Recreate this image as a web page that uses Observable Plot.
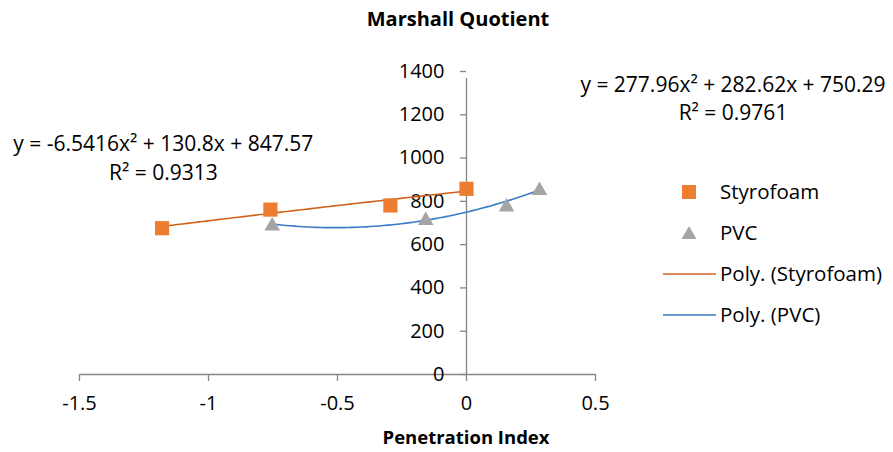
<!DOCTYPE html>
<html>
<head>
<meta charset="utf-8">
<script src="https://cdn.jsdelivr.net/npm/d3@7"></script>
<script src="https://cdn.jsdelivr.net/npm/@observablehq/plot@0.6"></script>
<style>
  html, body { margin: 0; padding: 0; background: #fff; }
  #wrap { position: relative; width: 893px; height: 452px; font-family: "Open Sans", sans-serif; color: #000; }
  #wrap svg.plot { position: absolute; left: 0; top: 0; }
  .ov { position: absolute; white-space: nowrap; font-weight: bold; }
</style>
</head>
<body>
<div id="wrap"></div>
<script>
// ---- data ----
const titleText = "Marshall Quotient";
const xLabel = "Penetration Index";
const xTicks = [-1.5, -1, -0.5, 0, 0.5];
const yTicks = [0, 200, 400, 600, 800, 1000, 1200, 1400];

const styroX = [-1.18, -0.76, -0.295, 0];
const styroY = [676, 762, 781, 858];
const pvcX = [-0.753, -0.158, 0.155, 0.283];
const pvcY = [686, 712, 774, 850];

// trendline coefficients printed on the chart (a, b, c for a·x² + b·x + c)
const styroCoef = [-6.5416, 130.8, 847.57];
const pvcCoef = [277.96, 282.62, 750.29];
const styroEq = ["y = -6.5416x² + 130.8x + 847.57", "R² = 0.9313"];
const pvcEq = ["y = 277.96x² + 282.62x + 750.29", "R² = 0.9761"];
const seriesNames = ["Styrofoam", "PVC", "Poly. (Styrofoam)", "Poly. (PVC)"];

const orange = "#ED7D31", gray = "#A5A5A5";
const orangeLine = "#D0621C", blueLine = "#3A7DC4", axisGray = "#868686";

const styro = styroX.map((x, i) => ({x, y: styroY[i]}));
const pvc = pvcX.map((x, i) => ({x, y: pvcY[i]}));

function trend(coef, xs) {
  const lo = d3.min(xs), hi = d3.max(xs);
  return d3.range(0, 61).map(k => {
    const x = lo + (hi - lo) * k / 60;
    return {x, y: coef[0] * x * x + coef[1] * x + coef[2]};
  });
}
const styroTrend = trend(styroCoef, styroX);
const pvcTrend = trend(pvcCoef, pvcX);

const fs = 20;
const efs = 21;
const chart = Plot.plot({
  width: 893,
  height: 452,
  marginLeft: 79,
  marginRight: 298,
  marginTop: 71,
  marginBottom: 78,
  style: {fontFamily: "Open Sans, sans-serif", fontSize: fs + "px", color: "#000", background: "#fff"},
  x: {domain: [-1.5, 0.5]},
  y: {domain: [0, 1400], axis: null},
  marks: [
    // x axis line + ticks
    Plot.ruleY([0], {x1: -1.5, x2: 0.5, stroke: axisGray, strokeWidth: 1.3}),
    Plot.axisX({ticks: xTicks, tickSize: 7, tickPadding: 14, stroke: axisGray, strokeWidth: 1.3, fill: "#000", fontSize: fs, tickFormat: d => String(d), label: null}),
    // y axis at x = 0
    Plot.ruleX([0], {y1: 0, y2: 1400, stroke: axisGray, strokeWidth: 1.3, insetBottom: -7}),
    Plot.ruleY(yTicks, {x1: 0, x2: 0, insetLeft: -6, stroke: axisGray, strokeWidth: 1.3}),
    Plot.text(yTicks, {x: 0, y: d => d, text: d => String(d), textAnchor: "end", dx: -22, fontSize: fs, fill: "#000"}),
    // trendlines
    Plot.line(styroTrend, {x: "x", y: "y", stroke: orangeLine, strokeWidth: 1.6}),
    Plot.line(pvcTrend, {x: "x", y: "y", stroke: blueLine, strokeWidth: 1.6}),
    // points
    Plot.dot(styro, {x: "x", y: "y", symbol: "square", r: 8, fill: orange, stroke: "none"}),
    Plot.dot(pvc, {x: "x", y: "y", symbol: "triangle", r: 5.8, fill: gray, stroke: "none"}),
    // equations
    Plot.text([styroEq[0]], {x: -1.175, y: 1062, text: d => d, fontSize: efs, fill: "#000"}),
    Plot.text([styroEq[1]], {x: -1.175, y: 928, text: d => d, fontSize: efs, fill: "#000"}),
    Plot.text([pvcEq[0]], {x: 1.033, y: 1335, text: d => d, fontSize: efs, fill: "#000"}),
    Plot.text([pvcEq[1]], {x: 1.033, y: 1208, text: d => d, fontSize: efs, fill: "#000"})
  ]
});
chart.classList.add("plot");
const wrap = document.getElementById("wrap");
wrap.appendChild(chart);

function ov(text, css) {
  const d = document.createElement("div");
  d.className = "ov";
  d.textContent = text;
  Object.assign(d.style, css);
  wrap.appendChild(d);
  return d;
}
ov(titleText, {left: "458px", top: "5px", fontSize: "20px", transform: "translateX(-50%)"});
ov(xLabel, {left: "466px", top: "424px", fontSize: "18.5px", transform: "translateX(-50%)"});

// legend
const legRows = [192, 233, 274, 315];
const ns = "http://www.w3.org/2000/svg";
const lsvg = document.createElementNS(ns, "svg");
lsvg.setAttribute("width", 893); lsvg.setAttribute("height", 452);
lsvg.style.position = "absolute"; lsvg.style.left = "0"; lsvg.style.top = "0";
function el(tag, attrs) { const e = document.createElementNS(ns, tag); for (const k in attrs) e.setAttribute(k, attrs[k]); lsvg.appendChild(e); }
el("rect", {x: 682, y: legRows[0] - 7, width: 14, height: 14, fill: orange});
el("path", {d: `M689,${legRows[1] - 7} L696.5,${legRows[1] + 6} L681.5,${legRows[1] + 6} Z`, fill: gray});
el("line", {x1: 663, x2: 716, y1: legRows[2], y2: legRows[2], stroke: orangeLine, "stroke-width": 1.6});
el("line", {x1: 663, x2: 716, y1: legRows[3], y2: legRows[3], stroke: blueLine, "stroke-width": 1.6});
seriesNames.forEach((n, i) => {
  const t = document.createElementNS(ns, "text");
  t.setAttribute("x", 720); t.setAttribute("y", legRows[i]);
  t.setAttribute("dy", "0.35em");
  t.setAttribute("font-size", 20.5);
  t.setAttribute("font-family", "Open Sans, sans-serif");
  t.textContent = n;
  lsvg.appendChild(t);
});
wrap.appendChild(lsvg);
</script>
</body>
</html>
